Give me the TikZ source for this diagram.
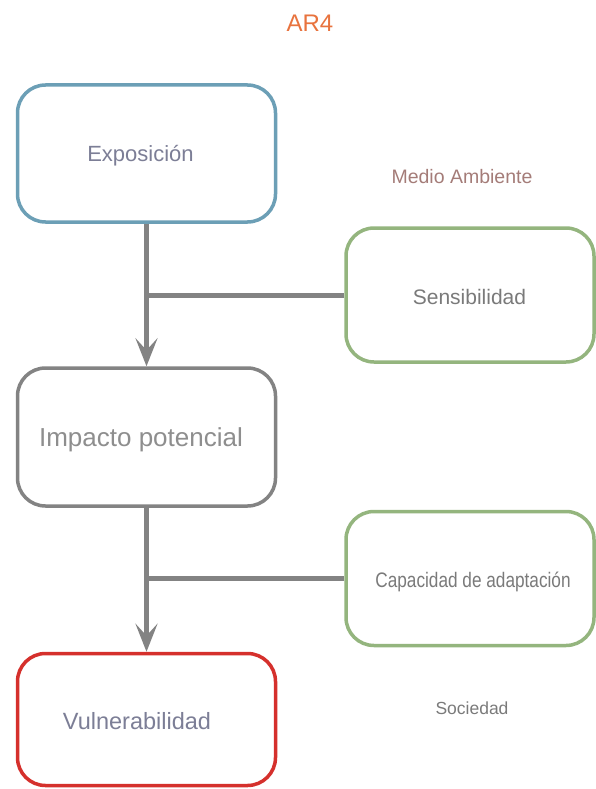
\documentclass[tikz,border=0pt]{standalone}
\usepackage{fontspec}
\usepackage{graphicx}
\setmainfont{Liberation Sans}
\usetikzlibrary{arrows.meta}
\definecolor{cblue}{HTML}{6C9FB6}
\definecolor{cgreen}{HTML}{94B57E}
\definecolor{cgray}{HTML}{838383}
\definecolor{cred}{HTML}{D5302C}
\definecolor{tpurp}{HTML}{7C7E96}
\definecolor{tgray}{HTML}{7A7A7A}
\definecolor{tbrown}{HTML}{A47C78}
\definecolor{corange}{HTML}{E8733E}
\begin{document}
\begin{tikzpicture}[x=1pt,y=-1pt,
  box/.style={draw,line width=3.5pt,rounded corners=28pt,inner sep=0pt,fill=white},
  link/.style={draw=cgray,line width=5pt},
  lbl/.style={inner sep=0pt}]
\useasboundingbox (0,0) rectangle (596,789);
\node[box,draw=cblue,minimum width=258pt,minimum height=137pt] (expo) at (146.5,153.5) {};
\node[box,draw=cgreen,minimum width=248pt,minimum height=134pt] (sens) at (470,295) {};
\node[box,draw=cgray,minimum width=258pt,minimum height=138pt] (imp) at (146.5,437) {};
\node[box,draw=cgreen,minimum width=248pt,minimum height=134pt] (cap) at (470,578.5) {};
\node[box,draw=cred,minimum width=258pt,minimum height=132pt] (vul) at (146.5,719.5) {};
\node[lbl,text=tpurp,font=\fontsize{22}{26}\selectfont] (expot) at (140.5,156) {Exposición};
\node[lbl,text=tgray,font=\fontsize{21}{25}\selectfont] (senst) at (469.5,297) {Sensibilidad};
\node[lbl,text=tgray!85,font=\fontsize{26}{30}\selectfont] (impt) at (141,440) {Impacto potencial};
\node[lbl,text=tgray,font=\fontsize{21}{25}\selectfont] (capt) at (473,582) {\scalebox{0.82}[1]{Capacidad de adaptación}};
\node[lbl,text=tpurp,font=\fontsize{23.5}{28}\selectfont] (vult) at (137,721) {Vulnerabilidad};
\node[lbl,text=corange,font=\fontsize{24}{28}\selectfont] (ar4) at (310,23) {AR4};
\node[lbl,text=tbrown,font=\fontsize{19.5}{23}\selectfont] (medio) at (462,177) {Medio Ambiente};
\node[lbl,text=tgray,font=\fontsize{17.5}{20}\selectfont] (soc) at (472,708) {Sociedad};
\coordinate (j1) at (expo.south |- sens.west);
\coordinate (j2) at (imp.south |- cap.west);
\draw[link,-{Stealth[length=28pt,width=22pt,inset=12pt]}] (expo.south) -- (imp.north);
\draw[link] (sens.west) -- (j1);
\draw[link,-{Stealth[length=28pt,width=22pt,inset=12pt]}] (imp.south) -- (vul.north);
\draw[link] (cap.west) -- (j2);
\end{tikzpicture}
\end{document}
